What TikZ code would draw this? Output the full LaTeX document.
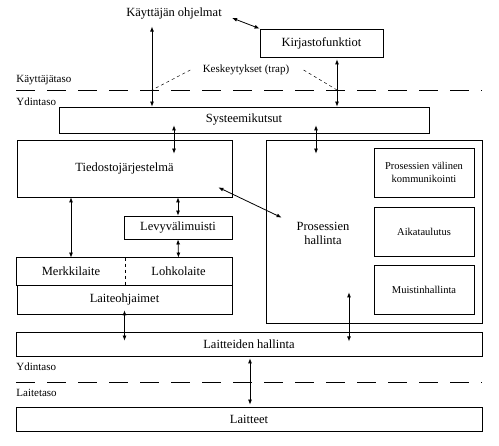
\documentclass[tikz,border=0pt]{standalone}
\usepackage{fontspec}
\setmainfont{Liberation Serif}
\usetikzlibrary{arrows.meta,calc}
\tikzstyle{box_main} = [draw, rectangle, inner sep=0pt, font=\fontsize{12.5}{14}\selectfont]
\tikzstyle{box_small} = [draw, rectangle, inner sep=0pt, align=center, font=\fontsize{10.5}{13}\selectfont]
\tikzstyle{text_main} = [inner sep=0pt, align=center, font=\fontsize{12.5}{14}\selectfont]
\tikzstyle{text_level} = [inner sep=0pt, anchor=base west, font=\fontsize{11}{12}\selectfont]
\tikzstyle{edge_call} = [{Latex[length=5pt,width=4pt]}-{Latex[length=5pt,width=4pt]}]
\tikzstyle{edge_trap} = [dash pattern=on 3pt off 3pt, line width=0.5pt]
\tikzstyle{edge_level} = [dash pattern=on 19pt off 12pt]

\begin{document}
\begin{tikzpicture}[x=1pt,y=-1pt,line width=0.8pt]
			\useasboundingbox (0,0) rectangle (499,446);
			% user level
			\node (kayt) at (174,14) [text_main] {Käyttäjän ohjelmat};
			\node (kirj) at (321.5,43) [box_main, minimum width=123pt, minimum height=28pt] {Kirjastofunktiot};
			\node (trap) at (246,70) [text_level, anchor=center] {Keskeytykset (trap)};
			\node (kt1) at (16,83) [text_level] {Käyttäjätaso};
			\node (yt1) at (16,106) [text_level] {Ydintaso};
			\coordinate (tl) at (152,90);
			\coordinate (tr) at (337,90);
			\draw[edge_level] (16,90) -- (482,90);
			% kernel
			\node (sys) at (244,120) [box_main, minimum width=370pt, minimum height=26pt] {Systeemikutsut};
			\node (tied) at (124.5,168.5) [box_main, minimum width=215pt, minimum height=57pt] {Tiedostojärjestelmä};
			\node (levy) at (178,227.5) [box_main, minimum width=108pt, minimum height=23pt] {Levyvälimuisti};
			\node (merkki) at (71,271.5) [text_main, minimum width=108pt, minimum height=27pt] {Merkkilaite};
			\node (lohko) at (178.5,271.5) [text_main, minimum width=107pt, minimum height=27pt] {Lohkolaite};
			\node (ohj) at (124.5,299.5) [box_main, minimum width=215pt, minimum height=29pt] {Laiteohjaimet};
			\draw (merkki.south west) rectangle (lohko.north east);
			\draw[dashed] (merkki.north east) -- (merkki.south east);
			\node (pros) at (374,231.5) [draw, minimum width=216pt, minimum height=183pt] {};
			\node (proshal) at (323,233) [text_main] {Prosessien\\hallinta};
			\node (komm) at (424,172.5) [box_small, minimum width=100pt, minimum height=49pt] {Prosessien välinen\\kommunikointi};
			\node (aika) at (424,231.5) [box_small, minimum width=100pt, minimum height=49pt] {Aikataulutus};
			\node (muisti) at (424,289.5) [box_small, minimum width=100pt, minimum height=49pt] {Muistinhallinta};
			\node (lhal) at (249,344) [box_main, minimum width=466pt, minimum height=24pt] {Laitteiden hallinta};
			\node (yt2) at (16,371) [text_level] {Ydintaso};
			\node (lt) at (16,397) [text_level] {Laitetaso};
			\draw[edge_level] (16,382) -- (482,382);
			\node (lait) at (249,419) [box_main, minimum width=466pt, minimum height=24pt] {Laitteet};
			% connectors
			\draw[edge_call] ([xshift=10pt,yshift=-4pt]kayt.east) -- (kirj.north west);
			\draw[edge_call] ($(sys.north)+(-92,-80)$) -- ($(sys.north)+(-92,0)$);
			\draw[edge_call] ($(kirj.south)+(15.5,2)$) -- ($(kirj.south |- sys.north)+(15.5,0)$);
			\draw[edge_trap] ([xshift=-12pt]trap.west) -- (tl);
			\draw[edge_trap] ([xshift=14pt]trap.east) -- (tr);
			\draw[edge_call] ($(sys.south)+(-70,-8)$) -- ($(tied.north)+(49.5,14)$);
			\draw[edge_call] ($(sys.south)+(72,-8)$) -- ($(pros.north)+(-58,14)$);
			\draw[edge_call] ($(tied.south east)+(-14,-10)$) -- ($(pros.north west)+(16,78)$);
			\draw[edge_call] (merkki.north |- tied.south) -- (merkki.north);
			\draw[edge_call] (levy.north |- tied.south) -- (levy.north);
			\draw[edge_call] (levy.south) -- (lohko.north);
			\draw[edge_call] ($(ohj.south)+(0,-4)$) -- ($(ohj.south |- lhal.north)+(0,9)$);
			\draw[edge_call] ($(pros.south)+(-25,-31)$) -- ($(pros.south)+(-25,18)$);
			\draw[edge_call] ($(lhal.south)+(1,2)$) -- ($(lait.north)+(1,-2)$);
		\end{tikzpicture}
\end{document}
